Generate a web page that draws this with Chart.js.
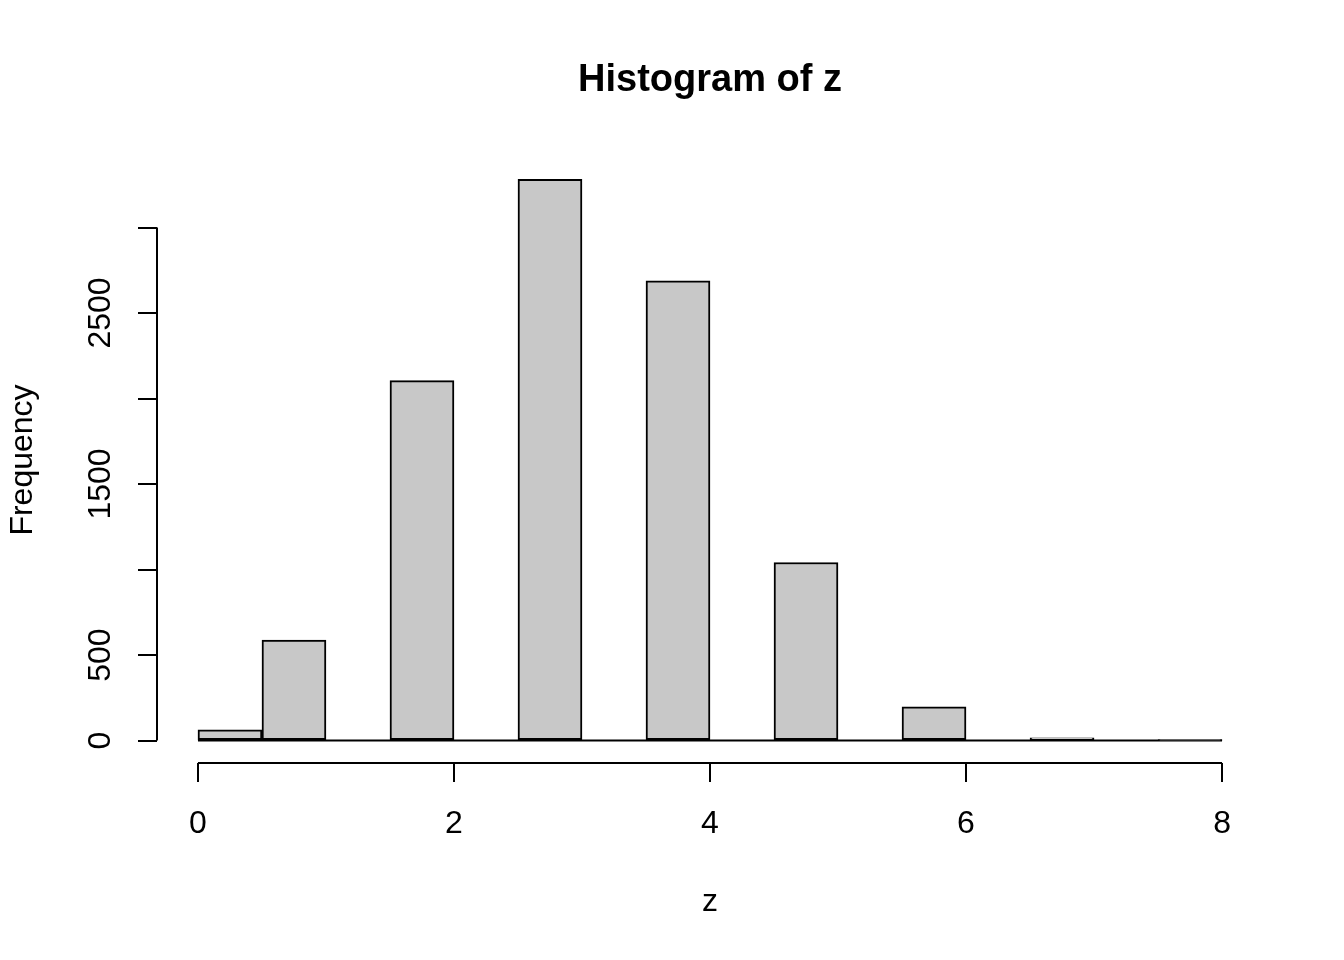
<!DOCTYPE html>
<html>
<head>
<meta charset="utf-8">
<title>Histogram of z</title>
<script src="https://cdn.jsdelivr.net/npm/chart.js@4"></script>
<style>
  html, body { margin: 0; padding: 0; background: #fff; }
  canvas { display: block; }
</style>
</head>
<body>
<canvas id="hist" width="1344" height="960"></canvas>
<script>
// histogram breaks and counts
const breaks = [0, 0.5, 1, 1.5, 2, 2.5, 3, 3.5, 4, 4.5, 5, 5.5, 6, 6.5, 7, 7.5, 8];
const counts = [62, 587, 0, 2105, 0, 3281, 0, 2688, 0, 1041, 0, 197, 0, 16, 0, 1];
const xTicks = [0, 2, 4, 6, 8];
const yTicks = [0, 500, 1000, 1500, 2000, 2500, 3000];
const yLabelled = [0, 500, 1500, 2500];   // R drops the labels that would overlap

const mids = counts.map((_, i) => (breaks[i] + breaks[i + 1]) / 2);
const xLo = breaks[0], xHi = breaks[breaks.length - 1];
const yHi = Math.max(...counts);
// R pads each axis range by 4%
const xPad = (xHi - xLo) * 0.04, yPad = yHi * 0.04;

Chart.defaults.font.family = "'Liberation Sans', Arial, Helvetica, sans-serif";
Chart.defaults.color = '#000';

// R draws its axis lines only from the first to the last tick
const rAxes = {
  id: 'rAxes',
  afterDraw(chart) {
    const { ctx, chartArea, scales: { x, y } } = chart;
    ctx.save();
    ctx.strokeStyle = '#000';
    ctx.lineWidth = 2;
    ctx.beginPath();
    ctx.moveTo(x.getPixelForValue(xTicks[0]), chartArea.bottom);
    ctx.lineTo(x.getPixelForValue(xTicks[xTicks.length - 1]), chartArea.bottom);
    ctx.moveTo(chartArea.left, y.getPixelForValue(yTicks[0]));
    ctx.lineTo(chartArea.left, y.getPixelForValue(yTicks[yTicks.length - 1]));
    ctx.stroke();
    ctx.restore();
  }
};

new Chart(document.getElementById('hist').getContext('2d'), {
  type: 'bar',
  data: {
    datasets: [
      {
        type: 'bar',
        data: mids.map((m, i) => ({ x: m, y: counts[i] })),
        backgroundColor: '#c8c8c8',
        borderColor: '#000',
        borderWidth: 2,
        borderSkipped: false,
        barPercentage: 1,
        categoryPercentage: 1,
        order: 1
      },
      {
        // empty bins show up as a line on zero
        type: 'line',
        data: [{ x: xLo, y: 0 }, { x: xHi, y: 0 }],
        borderColor: '#000',
        borderWidth: 2,
        pointRadius: 0,
        order: 2
      }
    ]
  },
  options: {
    responsive: false,
    animation: false,
    devicePixelRatio: 1,
    layout: { padding: { top: 0, right: 81, bottom: 0, left: 0 } },
    plugins: {
      legend: { display: false },
      tooltip: { enabled: false },
      title: {
        display: true,
        text: 'Histogram of z',
        fullSize: false,
        color: '#000',
        font: { size: 38, weight: 'bold' },
        padding: { top: 58, bottom: 53.4 }
      }
    },
    scales: {
      x: {
        type: 'linear',
        offset: false,
        bounds: 'data',
        min: xLo - xPad,
        max: xHi + xPad,
        afterBuildTicks: s => { s.ticks = xTicks.map(v => ({ value: v })); },
        afterFit: s => { s.height = 197; },
        border: { display: false },
        grid: { offset: false, drawOnChartArea: false, drawTicks: true, tickLength: 19, color: '#000', lineWidth: 2 },
        ticks: { font: { size: 32 }, color: '#000', padding: 23, maxRotation: 0, autoSkip: false },
        title: { display: true, text: 'z', font: { size: 32 }, color: '#000', padding: { top: 0, bottom: 39 } }
      },
      y: {
        bounds: 'data',
        min: -yPad,
        max: yHi + yPad,
        afterBuildTicks: s => { s.ticks = yTicks.map(v => ({ value: v })); },
        afterFit: s => { s.width = 157; },
        border: { display: false },
        grid: { offset: false, drawOnChartArea: false, drawTicks: true, tickLength: 19, color: '#000', lineWidth: 2 },
        ticks: {
          font: { size: 32 },
          color: '#000',
          padding: 1.4,
          minRotation: 90,
          maxRotation: 90,
          crossAlign: 'center',
          autoSkip: false,
          callback: v => yLabelled.includes(v) ? String(v) : ''
        },
        title: { display: true, text: 'Frequency', font: { size: 32 }, color: '#000', padding: { top: 4, bottom: 0 } }
      }
    }
  },
  plugins: [rAxes]
});
</script>
</body>
</html>
